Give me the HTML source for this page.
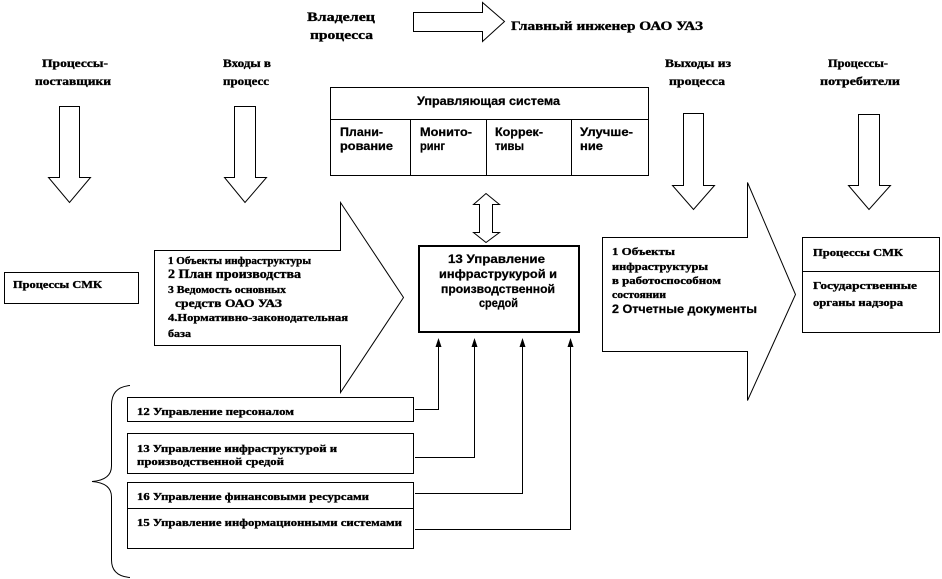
<!DOCTYPE html>
<html><head><meta charset="utf-8"><style>
html,body{margin:0;padding:0;background:#fff;}
svg{display:block;}
.s{font-family:"Liberation Serif","Noto Serif CJK SC",serif;font-weight:bold;fill:#000;stroke:#000;stroke-width:0.35;}
.a{font-family:"Liberation Sans","Noto Sans CJK SC",sans-serif;font-weight:bold;fill:#000;stroke:#000;stroke-width:0.25;}
</style></head><body>
<svg width="942" height="579" viewBox="0 0 942 579" xmlns="http://www.w3.org/2000/svg">
<g fill="#fff" stroke="#000" stroke-width="1">
<!-- top arrow -->
<polygon points="413.5,12.5 482.5,12.5 482.5,2.5 504.5,21.5 482.5,41.5 482.5,31.5 413.5,31.5"/>
<!-- down arrows -->
<polygon points="59.5,106.5 79.5,106.5 79.5,177.5 90.5,177.5 69.5,202.5 48.5,177.5 59.5,177.5"/>
<polygon points="234.5,106.5 255.5,106.5 255.5,177.5 266.5,177.5 245,202.5 224.5,177.5 234.5,177.5"/>
<polygon points="683.5,113.5 703.5,113.5 703.5,185.5 714.5,185.5 693.5,209.5 672.5,185.5 683.5,185.5"/>
<polygon points="858.5,114.5 879.5,114.5 879.5,185.5 890.5,185.5 869,209.5 848.5,185.5 858.5,185.5"/>
<!-- double arrow -->
<polygon points="486,193.5 499.5,204.5 492.5,204.5 492.5,232.5 499.5,232.5 486,242.5 473.5,232.5 479.5,232.5 479.5,204.5 473.5,204.5"/>
<!-- input big arrow -->
<polygon points="154.5,250.5 340.5,250.5 340.5,202.5 403.5,297.5 340.5,392.5 340.5,345.5 154.5,345.5"/>
<!-- output big arrow -->
<polygon points="602.5,237.5 747.5,237.5 747.5,182.5 795.5,294.5 747.5,400.5 747.5,351.5 602.5,351.5"/>
<!-- control system box -->
<rect x="330.5" y="87.5" width="318" height="88"/>
<line x1="330.5" y1="119.5" x2="648.5" y2="119.5"/>
<line x1="410.5" y1="119.5" x2="410.5" y2="175.5"/>
<line x1="486.5" y1="119.5" x2="486.5" y2="175.5"/>
<line x1="571.5" y1="119.5" x2="571.5" y2="175.5"/>
<!-- left box -->
<rect x="4.5" y="272.5" width="134" height="31"/>
<!-- right box -->
<rect x="802.5" y="237.5" width="137" height="95"/>
<line x1="802.5" y1="271.5" x2="939.5" y2="271.5"/>
<!-- bottom boxes -->
<rect x="127.5" y="397.5" width="286" height="24"/>
<rect x="127.5" y="433.5" width="286" height="40"/>
<rect x="127.5" y="482.5" width="286" height="66"/>
<line x1="127.5" y1="508.5" x2="413.5" y2="508.5"/>
</g>
<!-- main box -->
<rect x="419" y="246" width="160" height="86" fill="#fff" stroke="#000" stroke-width="2"/>
<!-- connectors -->
<g fill="none" stroke="#000" stroke-width="1">
<polyline points="415,409.5 438.5,409.5 438.5,345"/>
<polyline points="415,457.5 474.5,457.5 474.5,345"/>
<polyline points="415,493.5 522.5,493.5 522.5,345"/>
<polyline points="415,529.5 570.5,529.5 570.5,345"/>
<path d="M130,385.5 Q111.5,387 111.5,405 L111.5,466 Q111.5,480 92,481.5 Q111.5,483 111.5,497 L111.5,560 Q111.5,576 130,577.5"/>
</g>
<g fill="#000">
<polygon points="438.5,338 441.5,347 435.5,347"/>
<polygon points="474.5,338 477.5,347 471.5,347"/>
<polygon points="522.5,338 525.5,347 519.5,347"/>
<polygon points="570.5,338 573.5,347 567.5,347"/>
</g>
<!-- top texts -->
<text class="s" x="307" y="21" font-size="13" textLength="68" lengthAdjust="spacingAndGlyphs">Владелец</text>
<text class="s" x="310" y="39" font-size="13" textLength="63" lengthAdjust="spacingAndGlyphs">процесса</text>
<text class="s" x="511" y="30" font-size="13" textLength="192" lengthAdjust="spacingAndGlyphs">Главный инженер ОАО УАЗ</text>
<text class="s" x="42" y="67" font-size="12" textLength="66" lengthAdjust="spacingAndGlyphs">Процессы-</text>
<text class="s" x="35" y="85" font-size="12" textLength="76" lengthAdjust="spacingAndGlyphs">поставщики</text>
<text class="s" x="223" y="67" font-size="12" textLength="48" lengthAdjust="spacingAndGlyphs">Входы в</text>
<text class="s" x="223" y="85" font-size="12" textLength="46" lengthAdjust="spacingAndGlyphs">процесс</text>
<text class="s" x="665" y="67" font-size="12" textLength="66" lengthAdjust="spacingAndGlyphs">Выходы из</text>
<text class="s" x="669" y="85" font-size="12" textLength="56" lengthAdjust="spacingAndGlyphs">процесса</text>
<text class="s" x="828" y="67" font-size="12" textLength="60" lengthAdjust="spacingAndGlyphs">Процессы-</text>
<text class="s" x="820" y="85" font-size="12" textLength="80" lengthAdjust="spacingAndGlyphs">потребители</text>
<!-- control system -->
<text class="a" x="417" y="105" font-size="12" textLength="143" lengthAdjust="spacingAndGlyphs">Управляющая система</text>
<text class="a" x="340" y="136" font-size="12" textLength="43" lengthAdjust="spacingAndGlyphs">Плани-</text>
<text class="a" x="340" y="150" font-size="12" textLength="53" lengthAdjust="spacingAndGlyphs">рование</text>
<text class="a" x="420" y="136" font-size="12" textLength="52" lengthAdjust="spacingAndGlyphs">Монито-</text>
<text class="a" x="420" y="150" font-size="12" textLength="25" lengthAdjust="spacingAndGlyphs">ринг</text>
<text class="a" x="495" y="136" font-size="12" textLength="48" lengthAdjust="spacingAndGlyphs">Коррек-</text>
<text class="a" x="495" y="150" font-size="12" textLength="29" lengthAdjust="spacingAndGlyphs">тивы</text>
<text class="a" x="580" y="136" font-size="12" textLength="53" lengthAdjust="spacingAndGlyphs">Улучше-</text>
<text class="a" x="580" y="150" font-size="12" textLength="23" lengthAdjust="spacingAndGlyphs">ние</text>
<!-- main box text -->
<text class="a" x="448" y="263" font-size="12" textLength="97" lengthAdjust="spacingAndGlyphs">13 Управление</text>
<text class="a" x="439" y="278" font-size="12" textLength="118" lengthAdjust="spacingAndGlyphs">инфраструкурой и</text>
<text class="a" x="441" y="293" font-size="12" textLength="114" lengthAdjust="spacingAndGlyphs">производственной</text>
<text class="a" x="479" y="307" font-size="12" textLength="39" lengthAdjust="spacingAndGlyphs">средой</text>
<!-- input arrow text -->
<text class="s" x="168" y="264" font-size="11" textLength="143" lengthAdjust="spacingAndGlyphs">1 Объекты инфраструктуры</text>
<text class="s" x="168" y="278" font-size="13" textLength="133" lengthAdjust="spacingAndGlyphs">2 План производства</text>
<text class="s" x="168" y="293" font-size="11" textLength="118" lengthAdjust="spacingAndGlyphs">3 Ведомость основных</text>
<text class="s" x="175" y="307" font-size="12" textLength="107" lengthAdjust="spacingAndGlyphs">средств ОАО УАЗ</text>
<text class="s" x="168" y="321" font-size="11" textLength="180" lengthAdjust="spacingAndGlyphs">4.Нормативно-законодательная</text>
<text class="s" x="168" y="337" font-size="11" textLength="23" lengthAdjust="spacingAndGlyphs">база</text>
<!-- output arrow text -->
<text class="s" x="612" y="255" font-size="11" textLength="63" lengthAdjust="spacingAndGlyphs">1  Объекты</text>
<text class="s" x="612" y="270" font-size="11" textLength="96" lengthAdjust="spacingAndGlyphs">инфраструктуры</text>
<text class="s" x="612" y="284" font-size="11" textLength="109" lengthAdjust="spacingAndGlyphs">в работоспособном</text>
<text class="s" x="612" y="298" font-size="11" textLength="54" lengthAdjust="spacingAndGlyphs">состоянии</text>
<text class="a" x="612" y="313" font-size="12" textLength="145" lengthAdjust="spacingAndGlyphs">2  Отчетные документы</text>
<!-- right box -->
<text class="s" x="813" y="256" font-size="11" textLength="90" lengthAdjust="spacingAndGlyphs">Процессы СМК</text>
<text class="s" x="813" y="289" font-size="11" textLength="104" lengthAdjust="spacingAndGlyphs">Государственные</text>
<text class="s" x="813" y="306" font-size="11" textLength="90" lengthAdjust="spacingAndGlyphs">органы надзора</text>
<!-- left box -->
<text class="s" x="13" y="288" font-size="11" textLength="89" lengthAdjust="spacingAndGlyphs">Процессы СМК</text>
<!-- bottom boxes -->
<text class="s" x="137" y="415" font-size="11" textLength="157" lengthAdjust="spacingAndGlyphs">12 Управление персоналом</text>
<text class="s" x="137" y="452" font-size="11" textLength="200" lengthAdjust="spacingAndGlyphs">13 Управление инфраструктурой и</text>
<text class="s" x="137" y="465" font-size="11" textLength="147" lengthAdjust="spacingAndGlyphs">производственной средой</text>
<text class="s" x="137" y="500" font-size="11" textLength="232" lengthAdjust="spacingAndGlyphs">16 Управление финансовыми ресурсами</text>
<text class="s" x="137" y="526" font-size="11" textLength="265" lengthAdjust="spacingAndGlyphs">15 Управление информационными системами</text>
</svg>
</body></html>
